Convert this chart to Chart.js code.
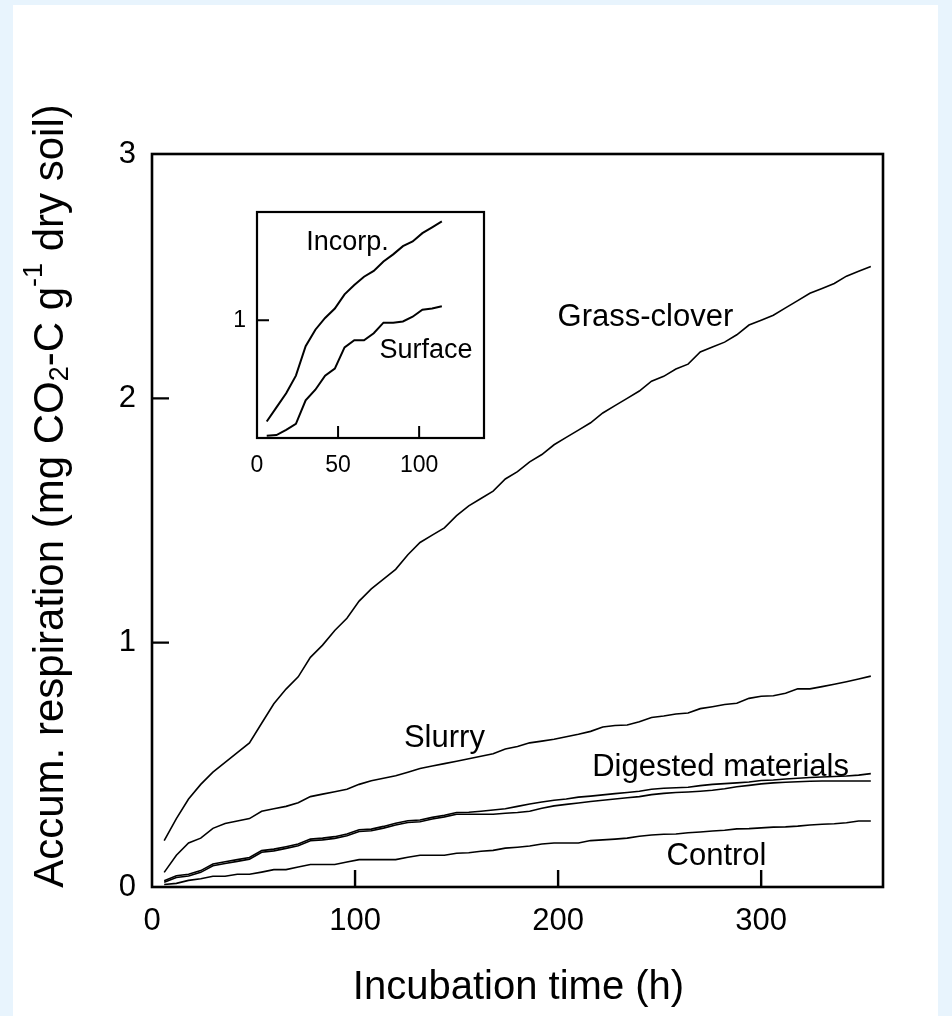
<!DOCTYPE html>
<html>
<head>
<meta charset="utf-8">
<script src="https://cdn.jsdelivr.net/npm/chart.js@4.4.1/dist/chart.umd.min.js"></script>
<style>
  html, body { margin: 0; padding: 0; background: #e8f4fd; width: 952px; height: 1016px; overflow: hidden; }
  #panel { position: absolute; left: 13px; top: 5px; width: 925px; height: 1011px; background: #ffffff; }
  #main { position: absolute; left: 0; top: 0; }
  #inset { position: absolute; left: 200px; top: 180px; }
</style>
</head>
<body>
<div id="panel"></div>
<canvas id="main" width="952" height="1016"></canvas>
<canvas id="inset" width="320" height="320"></canvas>
<script>
// Incubation times (h) of the soil respiration measurements
const hours = [6, 12, 18, 24, 30, 36, 42, 48, 54, 60, 66, 72, 78, 84, 90, 96, 102, 108, 114, 120,
  126, 132, 138, 144, 150, 156, 162, 168, 174, 180, 186, 192, 198, 204, 210, 216, 222, 228, 234, 240,
  246, 252, 258, 264, 270, 276, 282, 288, 294, 300, 306, 312, 318, 324, 330, 336, 342, 348, 354];

// Accumulated respiration, mg CO2-C per g dry soil
const grassClover = [0.19, 0.28, 0.36, 0.42, 0.47, 0.51, 0.55, 0.59, 0.67, 0.75, 0.81, 0.86, 0.94, 0.99, 1.05, 1.10, 1.17, 1.22, 1.26, 1.30,
  1.36, 1.41, 1.44, 1.47, 1.52, 1.56, 1.59, 1.62, 1.67, 1.70, 1.74, 1.77, 1.81, 1.84, 1.87, 1.90, 1.94, 1.97, 2.00, 2.03,
  2.07, 2.09, 2.12, 2.14, 2.19, 2.21, 2.23, 2.26, 2.30, 2.32, 2.34, 2.37, 2.40, 2.43, 2.45, 2.47, 2.50, 2.52, 2.54];

const slurry = [0.06, 0.13, 0.18, 0.20, 0.24, 0.26, 0.27, 0.28, 0.31, 0.32, 0.33, 0.345, 0.37, 0.38, 0.39, 0.40, 0.42, 0.435, 0.445, 0.455,
  0.47, 0.485, 0.495, 0.505, 0.515, 0.525, 0.535, 0.545, 0.565, 0.575, 0.59, 0.597, 0.605, 0.615, 0.625, 0.637, 0.655, 0.661, 0.663, 0.676,
  0.694, 0.70, 0.708, 0.712, 0.73, 0.738, 0.747, 0.752, 0.772, 0.781, 0.783, 0.793, 0.811, 0.811, 0.82, 0.83, 0.84, 0.851, 0.863];

const digestedA = [0.026, 0.046, 0.052, 0.067, 0.094, 0.103, 0.112, 0.121, 0.149, 0.155, 0.165, 0.176, 0.196, 0.200, 0.206, 0.217, 0.234, 0.237, 0.248, 0.261,
  0.271, 0.274, 0.285, 0.294, 0.305, 0.306, 0.310, 0.315, 0.320, 0.330, 0.340, 0.348, 0.355, 0.360, 0.368, 0.372, 0.377, 0.382, 0.387, 0.392,
  0.400, 0.404, 0.406, 0.408, 0.415, 0.420, 0.423, 0.426, 0.430, 0.436, 0.438, 0.442, 0.445, 0.448, 0.450, 0.452, 0.454, 0.458, 0.464];

const digestedB = [0.019, 0.039, 0.045, 0.060, 0.087, 0.096, 0.105, 0.114, 0.142, 0.148, 0.158, 0.169, 0.189, 0.193, 0.199, 0.210, 0.227, 0.230, 0.241, 0.254,
  0.264, 0.267, 0.278, 0.287, 0.298, 0.298, 0.298, 0.298, 0.302, 0.305, 0.310, 0.322, 0.332, 0.338, 0.344, 0.350, 0.355, 0.360, 0.365, 0.370,
  0.378, 0.383, 0.387, 0.389, 0.392, 0.396, 0.402, 0.410, 0.416, 0.422, 0.426, 0.429, 0.431, 0.433, 0.434, 0.434, 0.434, 0.434, 0.434];

const control = [0.010, 0.015, 0.027, 0.034, 0.044, 0.044, 0.052, 0.052, 0.061, 0.071, 0.071, 0.082, 0.092, 0.092, 0.092, 0.102, 0.112, 0.112, 0.112, 0.112,
  0.122, 0.130, 0.130, 0.130, 0.138, 0.140, 0.146, 0.150, 0.159, 0.163, 0.168, 0.176, 0.180, 0.180, 0.180, 0.190, 0.193, 0.196, 0.200, 0.208,
  0.213, 0.216, 0.217, 0.222, 0.225, 0.229, 0.232, 0.238, 0.239, 0.242, 0.245, 0.246, 0.249, 0.254, 0.257, 0.259, 0.263, 0.270, 0.270];

// Inset: grass-clover incorporated vs. left on the surface, first 114 h
const insetHours = [6, 12, 18, 24, 30, 36, 42, 48, 54, 60, 66, 72, 78, 84, 90, 96, 102, 108, 114];
const incorp = [0.14, 0.26, 0.38, 0.53, 0.78, 0.92, 1.02, 1.10, 1.22, 1.30, 1.37, 1.42, 1.50, 1.56, 1.63, 1.67, 1.74, 1.79, 1.84];
const surface = [0.02, 0.025, 0.07, 0.12, 0.32, 0.41, 0.53, 0.59, 0.77, 0.83, 0.83, 0.89, 0.98, 0.98, 0.99, 1.03, 1.09, 1.10, 1.12];

// Axis ticks
const mainXTicks = [0, 100, 200, 300];
const mainYTicks = [0, 1, 2, 3];
const insetXTicks = [0, 50, 100];
const insetYTicks = [1];

// Curve labels placed in data coordinates
const mainLabels = [
  { text: 'Grass-clover', x: 243, y: 2.33 },
  { text: 'Slurry', x: 144, y: 0.61 },
  { text: 'Digested materials', x: 280, y: 0.491 },
  { text: 'Control', x: 278, y: 0.126 }
];
const insetLabels = [
  { text: 'Incorp.', x: 55.8, y: 1.663 },
  { text: 'Surface', x: 104.3, y: 0.745 }
];

const FONT = '"Liberation Sans", Arial, Helvetica, sans-serif';

function points(xs, ys) {
  return xs.map((x, i) => ({ x: x, y: ys[i] }));
}

function lineSet(xs, ys, width) {
  return {
    data: points(xs, ys),
    borderColor: '#000000',
    borderWidth: width,
    pointRadius: 0,
    fill: false,
    tension: 0
  };
}

// Frame around the plot area plus inward-pointing tick marks
const frameTicks = {
  id: 'frameTicks',
  afterDatasetsDraw(chart, args, opts) {
    const { ctx, chartArea: a, scales } = chart;
    ctx.save();
    ctx.strokeStyle = '#000';
    ctx.lineWidth = opts.frameWidth;
    ctx.strokeRect(a.left, a.top, a.right - a.left, a.bottom - a.top);
    ctx.lineWidth = opts.tickWidth;
    ctx.beginPath();
    scales.x.ticks.forEach(t => {
      const px = scales.x.getPixelForValue(t.value);
      if (px <= a.left + 1 || px >= a.right - 1) return;
      ctx.moveTo(px, a.bottom);
      ctx.lineTo(px, a.bottom - opts.tickLen);
    });
    scales.y.ticks.forEach(t => {
      const py = scales.y.getPixelForValue(t.value);
      if (py >= a.bottom - 1 || py <= a.top + 1) return;
      ctx.moveTo(a.left, py);
      ctx.lineTo(a.left + opts.tickLen, py);
    });
    ctx.stroke();
    ctx.restore();
  }
};

// Text labels beside the curves
const curveLabels = {
  id: 'curveLabels',
  afterDraw(chart, args, opts) {
    const { ctx, scales } = chart;
    ctx.save();
    ctx.fillStyle = '#000';
    ctx.font = opts.size + 'px ' + FONT;
    ctx.textAlign = 'center';
    ctx.textBaseline = 'middle';
    opts.items.forEach(l => {
      ctx.fillText(l.text, scales.x.getPixelForValue(l.x), scales.y.getPixelForValue(l.y));
    });
    ctx.restore();
  }
};

// Axis titles of the main chart (y title carries a subscript and a superscript)
const axisTitles = {
  id: 'axisTitles',
  afterDraw(chart) {
    const { ctx, chartArea: a } = chart;
    ctx.save();
    ctx.fillStyle = '#000';
    ctx.font = '40px ' + FONT;
    ctx.textAlign = 'center';
    ctx.textBaseline = 'middle';
    ctx.fillText('Incubation time (h)', (a.left + a.right) / 2 + 1, 988);

    const big = '42px ' + FONT, small = '27px ' + FONT;
    const parts = [
      { t: 'Accum. respiration (mg CO', f: big, dy: 0 },
      { t: '2', f: small, dy: 10 },
      { t: '-C g', f: big, dy: 0 },
      { t: '-1', f: small, dy: -16 },
      { t: ' dry soil)', f: big, dy: 0 }
    ];
    let total = 0;
    parts.forEach(p => { ctx.font = p.f; p.w = ctx.measureText(p.t).width; total += p.w; });
    ctx.translate(51, 496);
    ctx.rotate(-Math.PI / 2);
    ctx.textAlign = 'left';
    let x = -total / 2;
    parts.forEach(p => {
      ctx.font = p.f;
      ctx.fillText(p.t, x, p.dy);
      x += p.w;
    });
    ctx.restore();
  }
};

Chart.defaults.font.family = FONT;
Chart.defaults.color = '#000';

new Chart(document.getElementById('main'), {
  type: 'line',
  data: {
    datasets: [
      lineSet(hours, grassClover, 1.6),
      lineSet(hours, slurry, 1.6),
      lineSet(hours, digestedA, 1.6),
      lineSet(hours, digestedB, 1.6),
      lineSet(hours, control, 1.6)
    ]
  },
  options: {
    responsive: false,
    animation: false,
    devicePixelRatio: 1,
    layout: { padding: { top: 154, right: 69, left: 0, bottom: 0 } },
    plugins: {
      legend: { display: false },
      tooltip: { enabled: false },
      frameTicks: { frameWidth: 2.6, tickWidth: 2.4, tickLen: 17 },
      curveLabels: { size: 31, items: mainLabels }
    },
    scales: {
      x: {
        type: 'linear', min: 0, max: 360,
        afterBuildTicks: s => { s.ticks = mainXTicks.map(v => ({ value: v })); },
        afterFit: s => { s.height = 1016 - 887; },
        grid: { display: false, drawTicks: false },
        border: { display: false },
        ticks: { font: { size: 31 }, color: '#000', padding: 16, maxRotation: 0 }
      },
      y: {
        type: 'linear', min: 0, max: 3,
        afterBuildTicks: s => { s.ticks = mainYTicks.map(v => ({ value: v })); },
        afterFit: s => { s.width = 152; },
        grid: { display: false, drawTicks: false },
        border: { display: false },
        ticks: { font: { size: 31 }, color: '#000', padding: 16 }
      }
    }
  },
  plugins: [frameTicks, curveLabels, axisTitles]
});

new Chart(document.getElementById('inset'), {
  type: 'line',
  data: {
    datasets: [
      lineSet(insetHours, incorp, 2),
      lineSet(insetHours, surface, 2)
    ]
  },
  options: {
    responsive: false,
    animation: false,
    devicePixelRatio: 1,
    layout: { padding: { top: 32, right: 36, left: 0, bottom: 0 } },
    plugins: {
      legend: { display: false },
      tooltip: { enabled: false },
      frameTicks: { frameWidth: 2.2, tickWidth: 2, tickLen: 12 },
      curveLabels: { size: 27, items: insetLabels }
    },
    scales: {
      x: {
        type: 'linear', min: 0, max: 140,
        afterBuildTicks: s => { s.ticks = insetXTicks.map(v => ({ value: v })); },
        afterFit: s => { s.height = 62; },
        grid: { display: false, drawTicks: false },
        border: { display: false },
        ticks: { font: { size: 23 }, color: '#000', padding: 14, maxRotation: 0 }
      },
      y: {
        type: 'linear', min: 0, max: 1.92,
        afterBuildTicks: s => { s.ticks = insetYTicks.map(v => ({ value: v })); },
        afterFit: s => { s.width = 57; },
        grid: { display: false, drawTicks: false },
        border: { display: false },
        ticks: { font: { size: 23 }, color: '#000', padding: 11 }
      }
    }
  },
  plugins: [frameTicks, curveLabels]
});
</script>
</body>
</html>
